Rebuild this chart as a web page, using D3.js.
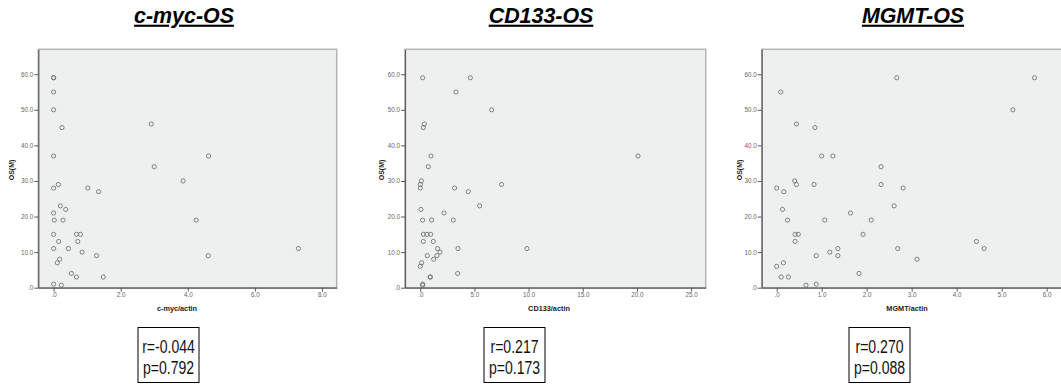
<!DOCTYPE html>
<html>
<head>
<meta charset="utf-8">
<script src="https://cdn.jsdelivr.net/npm/d3@7"></script>
<style>
  body { margin: 0; background: #fff; }
  svg { display: block; font-family: "Liberation Sans", Arial, sans-serif; }
</style>
</head>
<body>
<svg id="chart" width="1061" height="384"></svg>
<script>
// c-myc/actin vs OS
const mycX  = [0, 0, 0, 0, 0.25, 2.91, 0, 3.0, 4.62, 3.86, 0, 0.14, 1.02, 1.34,
  0.2, 0.36, 0, 0.02, 0.28, 4.25, 0, 0.68, 0.8, 0.15, 0.72, 0, 0.44, 7.3, 0.85,
  1.28, 4.61, 0.18, 0.11, 0.53, 0.68, 1.48, 0, 0.23];
const mycOS = [59, 59, 55, 50, 45, 46, 37, 34, 37, 30, 28, 29, 28, 27,
  23, 22, 21, 19, 19, 19, 15, 15, 15, 13, 13, 11, 11, 11, 10,
  9, 9, 8, 7, 4, 3, 3, 1, 0.7];

// CD133/actin vs OS
const cdX  = [0.22, 4.62, 3.3, 6.59, 0.37, 0.28, 0.99, 20.1, 0.74, 0.1, 0, 0, 3.17,
  7.5, 4.43, 5.48, 0.06, 2.19, 0.22, 1.05, 3.05, 0.28, 0.62, 0.96, 0.28, 1.2,
  1.6, 3.48, 9.85, 1.82, 0.65, 1.54, 1.24, 0.13, 0, 3.45, 0.92, 0.92, 0.22, 0.22];
const cdOS = [59, 59, 55, 50, 46, 45, 37, 37, 34, 30, 29, 28, 28,
  29, 27, 23, 22, 21, 19, 19, 19, 15, 15, 15, 13, 13,
  11, 11, 11, 10, 9, 9, 8, 7, 6, 4, 3, 3, 1, 0.7];

// MGMT/actin vs OS
const mgmtX  = [0.09, 2.67, 5.73, 5.25, 0.44, 0.85, 1.0, 1.25, 2.32, 0.4, 0.44, 0.83,
  2.32, 0, 2.81, 0.16, 2.61, 0.13, 1.64, 0.24, 1.07, 2.1, 1.92, 0.41, 0.48, 0.41,
  4.44, 1.36, 2.69, 4.61, 1.18, 0.88, 1.36, 3.12, 0.15, 0, 0.1, 0.26, 1.83, 0.65, 0.88];
const mgmtOS = [55, 59, 59, 50, 46, 45, 37, 37, 34, 30, 29, 29,
  29, 28, 28, 27, 23, 22, 21, 19, 19, 19, 15, 15, 15, 13,
  13, 11, 11, 11, 10, 9, 9, 8, 7, 6, 3, 3, 4, 0.7, 1];

const yTicks = [0, 10, 20, 30, 40, 50, 60];
const mycTicks = [0, 2, 4, 6, 8];
const cdTicks = [0, 5, 10, 15, 20, 25];
const mgmtTicks = [0, 1, 2, 3, 4, 5, 6];

const titles = ["c-myc-OS", "CD133-OS", "MGMT-OS"];
const xLabels = ["c-myc/actin", "CD133/actin", "MGMT/actin"];
const rValues = ["r=-0.044", "r=0.217", "r=0.270"];
const pValues = ["p=0.792", "p=0.173", "p=0.088"];

const svg = d3.select('#chart');
const plotTop = 49.3, plotBottom = 287.7;
const y = d3.scaleLinear().domain([0, 67]).range([plotBottom, plotTop]);

const fmt = function (v) {
  const s = d3.format('.1f')(v);
  return s.replace(/^0\./, '.');
};

const panels = [
  {xs: mycX, ys: mycOS, ticks: mycTicks, domain: [-0.457, 8.44], range: [38.3, 336.7],
    titleX: 184, labelX: 177, yLabelX: 12, boxX: 168.5},
  {xs: cdX, ys: cdOS, ticks: cdTicks, domain: [-1.41, 26.35], range: [405, 705.7],
    titleX: 541, labelX: 549, yLabelX: 381.5, boxX: 514.5},
  {xs: mgmtX, ys: mgmtOS, ticks: mgmtTicks, domain: [-0.333, 6.63], range: [761.7, 1075],
    titleX: 913, labelX: 907, yLabelX: 739.5, boxX: 879.5}
];

panels.forEach(function (p, i) {
  const x = d3.scaleLinear().domain(p.domain).range(p.range);
  const g = svg.append('g');

  // plot background + frame
  g.append('rect')
    .attr('x', p.range[0]).attr('y', plotTop)
    .attr('width', p.range[1] - p.range[0]).attr('height', plotBottom - plotTop)
    .attr('fill', '#eef0ef')
    .attr('stroke', '#b4b4b4')
    .attr('stroke-width', 1.5);

  const yAxis = g.append('g')
    .attr('transform', 'translate(' + p.range[0] + ',0)')
    .call(d3.axisLeft(y).tickValues(yTicks).tickFormat(fmt).tickSize(4).tickSizeOuter(0).tickPadding(1));

  const xAxis = g.append('g')
    .attr('transform', 'translate(0,' + plotBottom + ')')
    .call(d3.axisBottom(x).tickValues(p.ticks).tickFormat(fmt).tickSize(4).tickSizeOuter(0).tickPadding(1));

  [yAxis, xAxis].forEach(function (a) {
    a.select('.domain').attr('stroke', '#5a5a5a').attr('stroke-width', 1.2);
    a.selectAll('.tick line').attr('stroke', '#5a5a5a');
    a.selectAll('.tick text')
      .attr('fill', '#666')
      .style('font-family', '"Liberation Sans", Arial, sans-serif')
      .style('font-size', '6.3px');
  });

  // points
  g.selectAll('circle')
    .data(p.xs.map(function (v, k) { return [v, p.ys[k]]; }))
    .enter().append('circle')
    .attr('cx', function (d) { return x(d[0]); })
    .attr('cy', function (d) { return y(d[1]); })
    .attr('r', 2.1)
    .attr('fill', 'none')
    .attr('stroke', '#666')
    .attr('stroke-width', 0.8);

  // axis titles
  g.append('text')
    .attr('transform', 'translate(' + p.yLabelX + ',' + 170 + ') rotate(-90)')
    .attr('text-anchor', 'middle')
    .attr('dy', '0.35em')
    .style('font-size', '7px')
    .style('font-weight', 'bold')
    .attr('fill', '#222')
    .text('OS(M)');

  g.append('text')
    .attr('x', p.labelX).attr('y', 308)
    .attr('text-anchor', 'middle')
    .attr('dy', '0.35em')
    .style('font-size', '7.3px')
    .style('font-weight', 'bold')
    .attr('fill', '#222')
    .text(xLabels[i]);

  // panel title
  svg.append('text')
    .attr('x', p.titleX).attr('y', 22.7)
    .attr('text-anchor', 'middle')
    .style('font-size', '21.4px')
    .style('font-weight', 'bold')
    .style('font-style', 'italic')
    .style('text-decoration', 'underline')
    .attr('fill', '#000')
    .text(titles[i]);

  // r / p box
  const bw = 61, bh = 55;
  svg.append('rect')
    .attr('x', p.boxX - bw / 2).attr('y', 327.5)
    .attr('width', bw).attr('height', bh)
    .attr('fill', '#fff')
    .attr('stroke', '#000')
    .attr('stroke-width', 1);

  [rValues[i], pValues[i]].forEach(function (t, k) {
    svg.append('text')
      .attr('transform', 'translate(' + p.boxX + ',' + (353 + k * 21) + ') scale(0.74,1)')
      .attr('text-anchor', 'middle')
      .style('font-size', '19px')
      .attr('fill', '#111')
      .text(t);
  });
});
</script>
</body>
</html>
